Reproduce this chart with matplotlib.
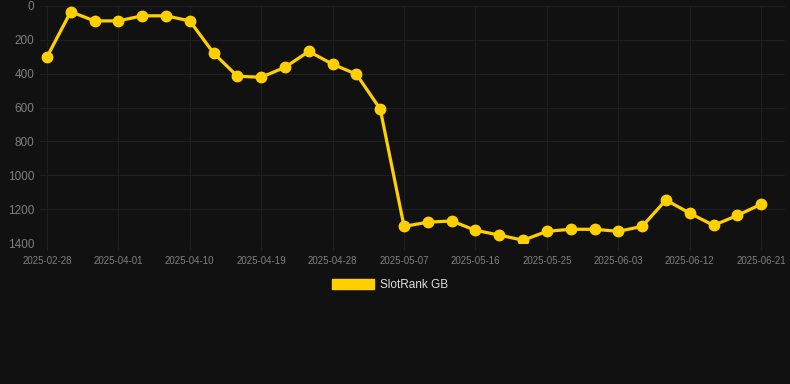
import matplotlib
matplotlib.use('Agg')
import matplotlib.pyplot as plt
from matplotlib.patches import Patch


DATES = ["2025-02-28", "2025-03-26", "2025-03-29", "2025-04-01", "2025-04-04",
         "2025-04-07", "2025-04-10", "2025-04-13", "2025-04-16", "2025-04-19",
         "2025-04-22", "2025-04-25", "2025-04-28", "2025-05-01", "2025-05-04",
         "2025-05-07", "2025-05-10", "2025-05-13", "2025-05-16", "2025-05-19",
         "2025-05-22", "2025-05-25", "2025-05-28", "2025-05-31", "2025-06-03",
         "2025-06-06", "2025-06-09", "2025-06-12", "2025-06-15", "2025-06-18",
         "2025-06-21"]
RANKS = [302, 34, 88, 88, 58, 58, 88, 278, 415, 421, 362, 268, 344, 403, 609,
         1302, 1277, 1270, 1325, 1353, 1384, 1331, 1319, 1319, 1331, 1302,
         1146, 1224, 1296, 1237, 1171]
SERIES_NAME = "SlotRank GB"
Y_TICKS = [0, 200, 400, 600, 800, 1000, 1200, 1400]

BG = '#111111'
GOLD = '#FFD000'


def main():
    plt.rcParams['font.family'] = ['Liberation Sans', 'DejaVu Sans']

    fig = plt.figure(figsize=(7.9, 3.84), dpi=100, facecolor=BG)
    ax = fig.add_axes([40 / 790, 1 - 243 / 384, 745 / 790, 237 / 384])
    ax.set_facecolor(BG)

    x = list(range(len(RANKS)))
    ax.plot(x, RANKS, color=GOLD, linewidth=2.3, marker='o', markersize=7.5,
            markerfacecolor=GOLD, markeredgecolor=GOLD, zorder=3)

    ax.set_ylim(1400, 0)
    ax.set_xlim(-0.29, 31.0)
    ax.set_yticks(Y_TICKS)
    ax.set_yticklabels([str(v) for v in Y_TICKS], fontsize=8.5, color='#7f7f7f')
    ticks = x[::3]
    ax.set_xticks(ticks)
    ax.set_xticklabels([DATES[i] for i in ticks], fontsize=7, color='#7f7f7f')

    ax.grid(True, color='#1f1f1f', linewidth=0.8)
    ax.tick_params(axis='x', length=5, color='#1f1f1f', pad=4)
    ax.tick_params(axis='y', length=0, pad=4)
    for spine in ax.spines.values():
        spine.set_visible(False)

    handle = Patch(facecolor=GOLD, edgecolor=GOLD, label=SERIES_NAME)
    leg = fig.legend(handles=[handle], loc='center', bbox_to_anchor=(390 / 790, 1 - 285 / 384),
                     frameon=False, fontsize=8.5, handlelength=3.6, handleheight=1.0,
                     handletextpad=0.5)
    for t in leg.get_texts():
        t.set_color('#dddddd')

    plt.savefig('out.png', dpi=100, facecolor=BG)


if __name__ == '__main__':
    main()
